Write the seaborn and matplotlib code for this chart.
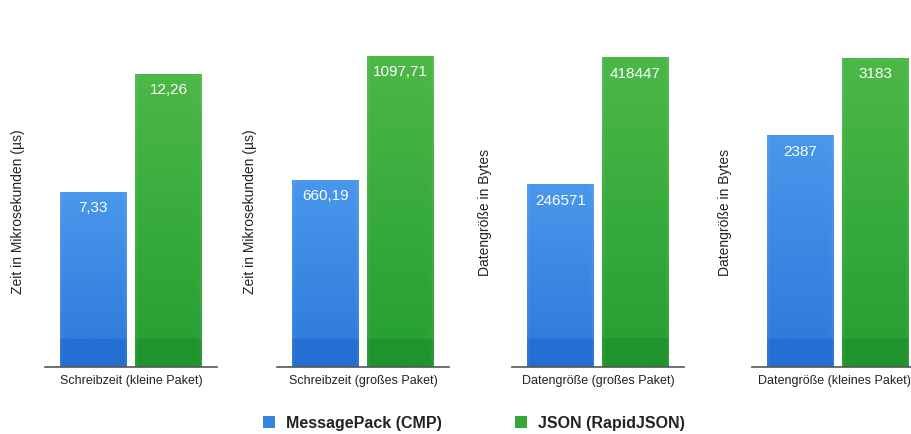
import numpy as np
import pandas as pd
import matplotlib
matplotlib.use("Agg")
import matplotlib.pyplot as plt
import seaborn as sns
from matplotlib.colors import to_rgb
from matplotlib.patches import Patch

sns.set_style("white")
plt.rcParams["font.family"] = ["Liberation Sans", "DejaVu Sans"]

# --- data -------------------------------------------------------------
series = ["MessagePack (CMP)", "JSON (RapidJSON)"]
panel_titles = [
    "Schreibzeit (kleine Paket)",
    "Schreibzeit (großes Paket)",
    "Datengröße (großes Paket)",
    "Datengröße (kleines Paket)",
]
y_titles = [
    "Zeit in Mikrosekunden (µs)",
    "Zeit in Mikrosekunden (µs)",
    "Datengröße in Bytes",
    "Datengröße in Bytes",
]
msgpack_values = [7.33, 660.19, 246571, 2387]
json_values = [12.26, 1097.71, 418447, 3183]
value_labels_msgpack = ["7,33", "660,19", "246571", "2387"]
value_labels_json = ["12,26", "1097,71", "418447", "3183"]

# --- styling ----------------------------------------------------------
palette = {series[0]: "#3485de", series[1]: "#34a83a"}
grad_top = {series[0]: "#4a98ec", series[1]: "#4cb848"}
grad_bot = {series[0]: "#2c78da", series[1]: "#249e32"}
band_col = {series[0]: "#256ed2", series[1]: "#1f942d"}

W, H = 912, 435
fig = plt.figure(figsize=(W / 100, H / 100), dpi=100)

ax_lefts = [45, 277, 512, 752]      # px
ax_w = 172                          # px
ax_bottom, ax_top = 368, 56         # px from top
ymax = [13.06, 1101.0, 421500.0, 3214.0]
xlabel_shift = [0, 0, 0, -4]        # px, keeps the last title inside the canvas
bar_w = 0.893

for i in range(4):
    ax = fig.add_axes([ax_lefts[i] / W, (H - ax_bottom) / H,
                       ax_w / W, (ax_bottom - ax_top) / H])
    df = pd.DataFrame({"series": series,
                       "value": [msgpack_values[i], json_values[i]]})
    sns.barplot(data=df, x="series", y="value", hue="series",
                palette=palette, width=bar_w, dodge=False,
                legend=False, ax=ax, linewidth=0)
    ax.set_ylim(0, ymax[i])
    ax.set_xlim(-bar_w / 2 - 0.2, 1 + bar_w / 2 + 0.2)

    # vertical gradient on each bar, clipped to the bar itself
    band_h = 0.09 * ymax[i]
    for patch, name in zip(ax.patches, series):
        x0, y0 = patch.get_x(), patch.get_y()
        w, h = patch.get_width(), patch.get_height()
        n = 300
        yy = np.linspace(h, 0, n)  # row 0 = top
        t = (yy / h)[:, None]
        top = np.array(to_rgb(grad_top[name]))
        bot = np.array(to_rgb(grad_bot[name]))
        col = bot + (top - bot) * t
        col[yy < band_h] = to_rgb(band_col[name])
        # slight highlight on the vertical edges
        xs = np.linspace(0, 1, 60)
        edge = np.clip(1 - np.minimum(xs, 1 - xs) / 0.05, 0, 1) * 0.06
        img = col[:, None, :] * (1 - edge[None, :, None]) + edge[None, :, None]
        im = ax.imshow(np.clip(img, 0, 1), extent=(x0, x0 + w, y0, y0 + h),
                       aspect="auto", interpolation="bilinear", zorder=2)
        im.set_clip_path(patch)

    # value labels inside the bars
    for patch, lab in zip(ax.patches, [value_labels_msgpack[i], value_labels_json[i]]):
        ax.annotate(lab, (patch.get_x() + patch.get_width() / 2, patch.get_height()),
                    xytext=(0, -6), textcoords="offset points",
                    ha="center", va="top", color="white", fontsize=11, zorder=3)

    ax.set_xticks([])
    ax.set_yticks([])
    for s in ["top", "right", "left"]:
        ax.spines[s].set_visible(False)
    ax.spines["bottom"].set_color("#555555")
    ax.spines["bottom"].set_linewidth(1.2)
    ax.set_xlabel(panel_titles[i], fontsize=9, color="#222222", labelpad=5)
    ax.xaxis.set_label_coords(0.5 + xlabel_shift[i] / ax_w, -7 / (ax_bottom - ax_top))
    ax.xaxis.label.set_va("top")
    ax.set_ylabel(y_titles[i], fontsize=10, color="#222222", va="center")
    ax.yaxis.set_label_coords(-27 / ax_w, 0.5)
    ax.set_facecolor("none")

handles = [Patch(facecolor=palette[s], edgecolor="none", label=s) for s in series]
fig.legend(handles=handles, loc="center", bbox_to_anchor=(474 / W, 1 - 424 / H),
           ncol=2, frameon=False,
           prop={"weight": "bold", "size": 11.5},
           labelcolor="#222222",
           handlelength=0.75, handleheight=0.75, handletextpad=0.7,
           columnspacing=4.6)

fig.savefig("out.png", dpi=100)
